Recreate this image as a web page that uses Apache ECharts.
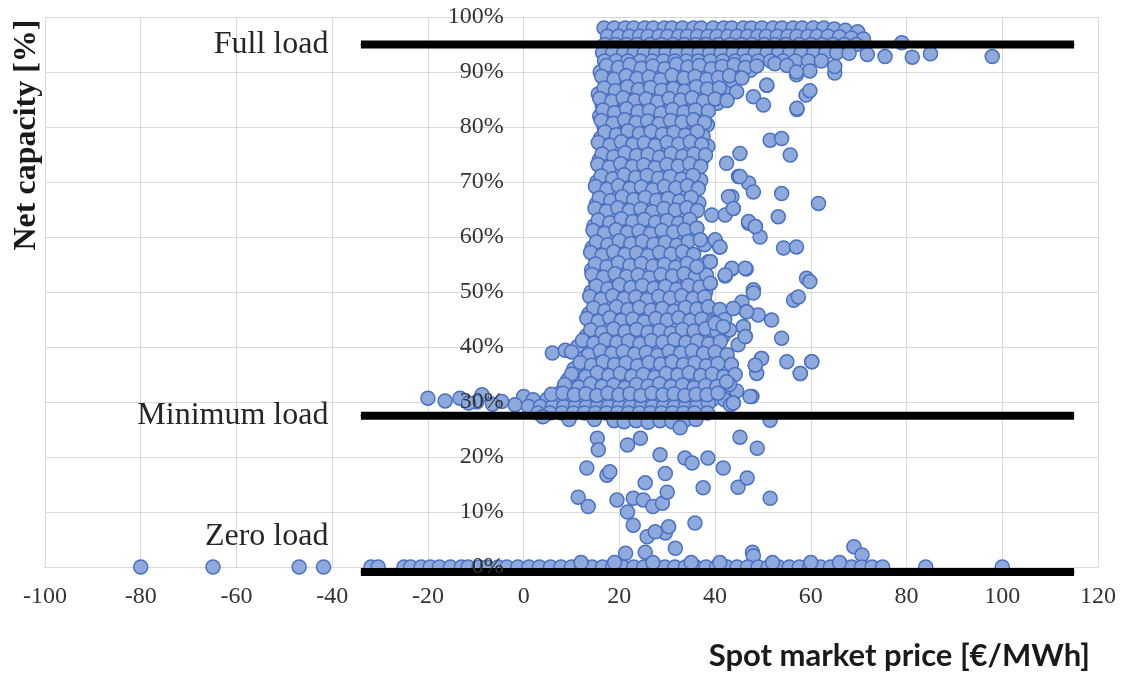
<!DOCTYPE html>
<html>
<head>
<meta charset="utf-8">
<script src="https://cdn.jsdelivr.net/npm/echarts@6/dist/echarts.min.js"></script>
<style>
  html, body { margin: 0; padding: 0; background: #ffffff; }
  #chart { width: 1124px; height: 675px; }
</style>
</head>
<body>
<div id="chart"></div>
<script>
// Axis ranges (spot price in €/MWh, net capacity in %)
const priceMin = -100, priceMax = 120, priceStep = 20;
const capMin = 0, capMax = 100, capStep = 10;

// Reference load levels drawn as horizontal bars
const loadNames = ['Full load', 'Minimum load', 'Zero load'];
const loadValues = [95, 27.5, -0.9];
const loadFrom = -34, loadTo = 115;

// Hourly operating points: [spot price, net capacity %]
const fullLoadBand = [
  [16.8,98],[18.9,98],[21.2,98],[23.0,98],[25.3,98],[27.1,98],[29.4,98],[31.0,98],[33.2,98],[35.5,98],[37.1,98],[39.6,98],[41.8,98],[43.5,98],[45.9,98],[47.6,98],[49.8,98],[52.1,98],[54.0,98],[56.3,98],[58.2,98],[60.5,98],[62.7,98],[64.9,97.8],[67.2,97.6],[69.8,97.3],
  [17.5,96.5],[19.8,96.5],[22.1,96.5],[24.2,96.5],[26.0,96.5],[28.3,96.5],[30.1,96.5],[32.4,96.5],[34.2,96.5],[36.3,96.5],[38.5,96.5],[40.4,96.5],[42.7,96.5],[44.6,96.5],[46.8,96.5],[48.9,96.5],[50.7,96.5],[53.0,96.5],[55.2,96.5],[57.1,96.5],[59.4,96.5],[61.3,96.5],[63.6,96.5],[66.0,96.4],[68.5,96.2],[71.0,96.0],
  [17.0,95],[19.2,95],[21.5,95],[23.7,95],[26.4,95],[28.8,95],[31.2,95],[33.6,95],[35.9,95],[38.1,95],[40.7,95],[43.2,95],[45.5,95],[47.7,95],[50.3,95],[52.5,95],[54.8,95],[57.6,95],[60.0,95],[62.3,95],[64.6,95],[67.0,95],[69.5,95],[79.0,95.3],
  [16.5,93.5],[18.6,93.5],[20.9,93.5],[23.1,93.5],[25.2,93.5],[27.6,93.5],[29.7,93.5],[32.0,93.5],[34.4,93.5],[36.7,93.5],[38.9,93.5],[41.3,93.5],[43.8,93.5],[46.1,93.5],[48.4,93.5],[50.9,93.5],[53.3,93.5],[55.6,93.5],[58.0,93.5],[60.6,93.5],[63.1,93.5],[65.4,93.5],[68.0,93.4],[71.8,93.2],[75.5,92.8],[85.0,93.3],[97.9,92.8],
  [16.9,92],[19.3,92],[21.8,92],[24.4,92],[26.9,92],[29.2,92],[31.6,92],[34.0,92],[36.5,92],[39.0,92],[41.6,92],[44.2,92],[46.5,92],[49.0,92],[51.6,92],[54.2,92],[56.8,92],[59.5,92],[62.2,92],[81.2,92.7]
];

const coreCloud = [
  [16.0,90],[18.6,90],[21.0,90],[23.3,90],[25.8,90],[28.1,90],[30.6,90],[33.0,90],[35.3,90],[37.9,90],[40.2,90],[42.6,90],[45.1,90],[47.4,90.3],[57.0,89.5],[59.8,90.2],[65.0,89.8],
  [17.2,88],[19.7,88],[22.1,88],[24.5,88],[26.9,88],[29.4,88],[31.7,88],[34.2,88],[36.5,88],[39.0,88],[41.4,88],[43.8,88],[50.8,87.6],
  [15.6,86],[18.0,86],[20.4,86],[22.9,86],[25.2,86],[27.6,86],[30.1,86],[32.4,86],[34.9,86],[37.3,86],[39.6,86],[42.2,86.2],[48.0,85.5],[59.0,85.8],
  [16.4,84],[18.9,84],[21.3,84],[23.6,84],[26.1,84],[28.5,84],[30.8,84],[33.3,84],[35.7,84],[38.0,84],[40.5,84.3],[50.1,84],[57.1,83.2],
  [15.9,82],[18.2,82],[20.6,82],[23.1,82],[25.5,82],[27.8,82],[30.3,82],[32.6,82],[35.0,82],[37.4,82.2],
  [16.8,80],[19.3,80],[21.7,80],[24.0,80],[26.5,80],[28.9,80],[31.2,80],[33.7,80],[36.1,80],[38.4,80.4],
  [16.1,78],[18.5,78],[21.0,78],[23.4,78],[25.8,78],[28.2,78],[30.5,78],[33.0,78],[35.4,78],[37.5,78.3],[51.5,77.6],[53.9,77.9],
  [16.9,76],[19.4,76],[21.8,76],[24.3,76],[26.6,76],[29.0,76],[31.5,76],[33.9,76],[36.2,76],[38.5,76.5],
  [15.8,74],[18.1,74],[20.6,74],[23.0,74],[25.4,74],[27.7,74],[30.2,74],[32.6,74],[35.0,74],[37.3,74.2],[42.4,73.4],[45.2,75.2],[55.7,74.9],
  [16.5,72],[19.0,72],[21.3,72],[23.8,72],[26.2,72],[28.6,72],[31.0,72],[33.4,72],[35.8,72],[44.9,71],
  [15.3,70],[17.7,70],[20.1,70],[22.5,70],[25.0,70],[27.3,70],[29.8,70],[32.2,70],[34.6,70],[37.0,70.3],[47.0,69.8],
  [16.0,68],[18.4,68],[20.9,68],[23.2,68],[25.7,68],[28.0,68],[30.5,68],[32.9,68],[35.3,68],[48.0,68.2],[53.9,67.9],[43.5,67.3],
  [15.2,66],[17.6,66],[20.0,66],[22.4,66],[24.8,66],[27.2,66],[29.6,66],[32.0,66],[34.4,66],[36.6,66.2],[43.8,65.2],[61.6,66.1],
  [15.9,64],[18.3,64],[20.7,64],[23.1,64],[25.5,64],[27.9,64],[30.3,64],[32.7,64],[35.0,64],[39.3,64],[42.1,64],[53.2,63.7],
  [14.7,62],[17.1,62],[19.5,62],[21.9,62],[24.3,62],[26.7,62],[29.1,62],[31.5,62],[33.8,62],[36.2,61.6],[47.0,62.5],[48.4,61.9],
  [15.4,60],[17.8,60],[20.2,60],[22.6,60],[25.0,60],[27.4,60],[29.8,60],[32.2,60],[34.5,60],[36.9,59.5],[40.0,59.3],[49.4,60],
  [14.3,58],[16.7,58],[19.1,58],[21.5,58],[23.9,58],[26.3,58],[28.7,58],[31.1,58],[33.5,58],[41.0,58.2],[54.3,58],[57.0,58.2],
  [15.1,56],[17.5,56],[19.9,56],[22.3,56],[24.7,56],[27.1,56],[29.5,56],[31.9,56],[34.2,56],[36.2,54.6],[39.0,55.5],[38.6,55.5],
  [14.2,54],[16.6,54],[19.0,54],[21.4,54],[23.8,54],[26.2,54],[28.6,54],[31.0,54],[33.4,54],[35.8,54],[43.5,54.2],[46.5,54.2],
  [15.0,52],[17.4,52],[19.8,52],[22.2,52],[24.6,52],[27.0,52],[29.4,52],[31.8,52],[34.2,52],[36.5,52],[42.1,52.9],[59.1,52.5],[59.8,51.9],[39.0,51.6],
  [14.1,50],[16.5,50],[18.9,50],[21.3,50],[23.7,50],[26.1,50],[28.5,50],[30.9,50],[33.3,50],[35.7,50],[38.0,50],[48.0,50.1],
  [14.8,48],[17.2,48],[19.6,48],[22.0,48],[24.4,48],[26.8,48],[29.2,48],[31.6,48],[34.0,48],[36.4,48],[45.6,48.2],[56.4,48.5],[57.4,49.1],
  [13.6,46],[16.0,46],[18.4,46],[20.8,46],[23.2,46],[25.6,46],[28.0,46],[30.4,46],[32.8,46],[35.2,46],[37.6,46],[39.8,46],[43.8,47],[46.6,46.4],[49.0,45.8],
  [14.4,44],[16.8,44],[19.2,44],[21.6,44],[24.0,44],[26.4,44],[28.8,44],[31.2,44],[33.6,44],[36.0,44],[38.4,44],[40.6,44],[51.8,44.9],[45.9,43.7],[41.7,43.7],
  [13.1,42],[15.5,42],[17.9,42],[20.3,42],[22.7,42],[25.1,42],[27.5,42],[29.9,42],[32.3,42],[34.7,42],[37.1,42],[39.5,42],[41.7,42],[46.3,41.9],[53.9,41.6],
  [11.2,40],[13.9,40],[16.3,40],[18.7,40],[21.1,40],[23.5,40],[25.9,40],[28.3,40],[30.7,40],[33.1,40],[35.5,40],[37.9,40],[40.3,40],[44.8,40.4],
  [6.0,38.9],[8.7,39.4],[12.6,38],[15.0,38],[17.4,38],[19.8,38],[22.2,38],[24.6,38],[27.0,38],[29.4,38],[31.8,38],[34.2,38],[36.6,38],[39.0,38],[41.4,38],[49.7,37.9],[55.0,37.3],[60.2,37.3],
  [10.5,36],[13.5,36],[15.9,36],[18.3,36],[20.7,36],[23.1,36],[25.5,36],[27.9,36],[30.3,36],[32.7,36],[35.1,36],[37.5,36],[39.9,36],[42.3,36],[48.4,36.7],[48.7,35.2],[57.8,35.2],
  [9.2,34],[12.2,34],[14.6,34],[17.0,34],[19.4,34],[21.8,34],[24.2,34],[26.6,34],[29.0,34],[31.4,34],[33.8,34],[36.2,34],[38.6,34],[41.0,34],[42.4,33.7],
  [8.0,32],[10.8,32],[13.3,32],[15.7,32],[18.1,32],[20.5,32],[22.9,32],[25.3,32],[27.7,32],[30.1,32],[32.5,32],[34.9,32],[37.3,32],[39.7,32],[42.0,32],[44.5,32],[47.7,31]
];

// Hours lying between the rows above, filling out the dense mass
const coreCloudFill = [
  [17.3,91.2],[19.8,90.8],[22.2,91.3],[24.6,90.7],[27.0,91.1],[29.5,90.6],[31.9,91.4],[34.3,90.9],[36.7,91.2],[39.2,90.6],[41.5,91.0],[44.0,91.3],[46.3,90.8],[48.7,91.1],[52.5,91.5],[55.0,91.2],
  [16.3,89.2],[18.9,88.7],[21.4,89.3],[23.7,88.8],[26.2,89.1],[28.6,88.6],[31.0,89.4],[33.5,88.9],[35.8,89.2],[38.3,88.7],[40.7,89.0],[43.0,89.3],[45.6,88.9],
  [16.8,87.1],[19.2,86.6],[21.7,87.3],[24.0,86.8],[26.5,87.2],[28.8,86.7],[31.3,87.0],[33.6,86.5],[36.1,87.3],[38.4,86.9],[40.9,87.1],[44.5,86.4],
  [15.9,85.2],[18.4,84.7],[20.8,85.3],[23.2,84.8],[25.6,85.1],[28.0,84.6],[30.4,85.2],[32.8,84.9],[35.2,85.3],[37.6,84.7],[40.0,85.1],[42.5,84.8],
  [16.6,83.1],[19.0,82.6],[21.5,83.3],[23.9,82.8],[26.3,83.0],[28.7,82.5],[31.1,83.2],[33.5,82.7],[35.9,83.1],[38.6,82.9],
  [16.2,81.2],[18.7,80.7],[21.1,81.3],[23.5,80.8],[25.9,81.1],[28.3,80.6],[30.7,81.2],[33.1,80.9],[35.5,81.3],[37.8,80.8],
  [17.0,79.1],[19.4,78.6],[21.8,79.3],[24.2,78.8],[26.6,79.2],[29.0,78.7],[31.4,79.0],[33.8,78.5],[36.3,79.2],
  [15.6,77.2],[18.0,76.7],[20.4,77.3],[22.8,76.8],[25.2,77.1],[27.5,76.6],[30.0,77.2],[32.4,76.9],[34.8,77.3],[37.2,76.8],
  [16.4,75.1],[18.8,74.6],[21.2,75.3],[23.6,74.8],[26.0,75.0],[28.4,74.5],[30.8,75.2],[33.2,74.7],[35.6,75.1],[38.0,74.9],
  [15.5,73.2],[17.9,72.7],[20.3,73.3],[22.7,72.8],[25.1,73.1],[27.5,72.6],[29.9,73.2],[32.3,72.9],[34.7,73.3],[37.0,72.8],
  [16.2,71.1],[18.6,70.6],[21.0,71.3],[23.4,70.8],[25.8,71.2],[28.2,70.7],[30.6,71.0],[33.0,70.5],[35.4,71.2],
  [15.0,69.2],[17.4,68.7],[19.8,69.3],[22.2,68.8],[24.6,69.1],[27.0,68.6],[29.4,69.2],[31.8,68.9],[34.2,69.3],[36.5,68.8],
  [15.8,67.1],[18.2,66.6],[20.6,67.3],[23.0,66.8],[25.4,67.2],[27.8,66.7],[30.2,67.0],[32.6,66.5],[35.0,67.2],
  [14.9,65.2],[17.3,64.7],[19.7,65.3],[22.1,64.8],[24.5,65.1],[26.9,64.6],[29.3,65.2],[31.7,64.9],[34.1,65.3],[36.3,64.8],
  [15.6,63.1],[18.0,62.6],[20.4,63.3],[22.8,62.8],[25.2,63.2],[27.6,62.7],[30.0,63.0],[32.4,62.5],[34.7,63.2],
  [14.5,61.2],[16.9,60.7],[19.3,61.3],[21.7,60.8],[24.1,61.1],[26.5,60.6],[28.9,61.2],[31.3,60.9],[33.6,61.3],
  [15.2,59.1],[17.6,58.6],[20.0,59.3],[22.4,58.8],[24.8,59.2],[27.2,58.7],[29.6,59.0],[32.0,58.5],[34.4,59.2],[37.8,58.6],
  [14.0,57.2],[16.4,56.7],[18.8,57.3],[21.2,56.8],[23.6,57.1],[26.0,56.6],[28.4,57.2],[30.8,56.9],[33.2,57.3],[35.5,56.8],
  [15.0,55.1],[17.4,54.6],[19.8,55.3],[22.2,54.8],[24.6,55.2],[27.0,54.7],[29.4,55.0],[31.8,54.5],[34.2,55.2],[37.0,54.8],
  [14.3,53.2],[16.7,52.7],[19.1,53.3],[21.5,52.8],[23.9,53.1],[26.3,52.6],[28.7,53.2],[31.1,52.9],[33.5,53.3],[35.9,52.8],[38.2,53.1],
  [15.2,51.1],[17.6,50.6],[20.0,51.3],[22.4,50.8],[24.8,51.2],[27.2,50.7],[29.6,51.0],[32.0,50.5],[34.4,51.2],[36.8,50.9],
  [13.8,49.2],[16.2,48.7],[18.6,49.3],[21.0,48.8],[23.4,49.1],[25.8,48.6],[28.2,49.2],[30.6,48.9],[33.0,49.3],[35.4,48.8],[37.8,49.1],
  [14.6,47.1],[17.0,46.6],[19.4,47.3],[21.8,46.8],[24.2,47.2],[26.6,46.7],[29.0,47.0],[31.4,46.5],[33.8,47.2],[36.2,46.9],[38.6,47.3],[41.0,46.8],
  [13.2,45.2],[15.6,44.7],[18.0,45.3],[20.4,44.8],[22.8,45.1],[25.2,44.6],[27.6,45.2],[30.0,44.9],[32.4,45.3],[34.8,44.8],[37.2,45.1],[39.6,44.6],[42.0,45.0],
  [14.0,43.1],[16.4,42.6],[18.8,43.3],[21.2,42.8],[23.6,43.2],[26.0,42.7],[28.4,43.0],[30.8,42.5],[33.2,43.2],[35.6,42.9],[38.0,43.3],[40.4,42.8],[43.0,43.1],
  [12.3,41.2],[14.7,40.7],[17.1,41.3],[19.5,40.8],[21.9,41.1],[24.3,40.6],[26.7,41.2],[29.1,40.9],[31.5,41.3],[33.9,40.8],[36.3,41.1],[38.7,40.6],[41.1,41.0],
  [10.0,39.1],[13.6,38.6],[16.0,39.3],[18.4,38.8],[20.8,39.2],[23.2,38.7],[25.6,39.0],[28.0,38.5],[30.4,39.2],[32.8,38.9],[35.2,39.3],[37.6,38.8],[40.0,39.1],[42.5,38.6],
  [11.8,37.2],[14.2,36.7],[16.6,37.3],[19.0,36.8],[21.4,37.1],[23.8,36.6],[26.2,37.2],[28.6,36.9],[31.0,37.3],[33.4,36.8],[35.8,37.1],[38.2,36.6],[40.6,37.0],[43.4,36.8],
  [10.0,35.1],[13.0,34.6],[15.4,35.3],[17.8,34.8],[20.2,35.2],[22.6,34.7],[25.0,35.0],[27.4,34.5],[29.8,35.2],[32.2,34.9],[34.6,35.3],[37.0,34.8],[39.4,35.1],[41.8,34.6],[44.2,35.0],
  [8.6,33.2],[11.5,32.7],[14.0,33.3],[16.4,32.8],[18.8,33.1],[21.2,32.6],[23.6,33.2],[26.0,32.9],[28.4,33.3],[30.8,32.8],[33.2,33.1],[35.6,32.6],[38.0,33.0],[40.4,32.8],[43.0,33.2]
];

// Sparse hours to the right of the main mass
const outerPoints = [
  [59.8,86.6],[57.1,83.4],[50.8,87.6],[57.0,90],[65.0,91],[44.9,71],[45.2,71],[42.8,67.3],[43.8,65.2],[47.0,62.8],[48.4,61.9],[36.2,61.6],[36.9,59.5],[40.0,59.5],[41.0,58.2],[36.2,54.6],[39.0,55.5],[43.5,54.3],[46.3,54.3],[42.1,53.1],[48.0,50.4],[39.0,51.6],[48.0,49.8],[43.8,47],[46.6,46.4],[40.0,44.3],[41.7,43.7],[45.9,43.7],[46.3,41.9],[49.7,37.9],[48.4,36.7],[42.4,33.7],[43.8,29.8],[38.6,30.4],[60.2,37.3],[57.8,35.2]
];

const minLoadBand = [
  [-20.0,30.7],[-16.4,30.2],[-13.3,30.7],[-8.7,31.3],[0.0,31],[2.0,30.4],[4.9,30.5],[7.3,30.5],[9.6,30.5],[11.9,30.5],[14.2,30.5],[16.5,30.5],[18.8,30.5],[21.1,30.5],[23.4,30.5],[25.7,30.5],[28.0,30.5],[30.3,30.5],[32.6,30.5],[34.9,30.5],[37.2,30.5],[39.5,30.5],[42.0,30.4],[47.3,31],
  [-9.8,30],[-1.8,29.5],[1.0,29.2],[3.5,29.2],[6.0,29.2],[8.4,29.2],[10.8,29.2],[13.1,29.2],[15.4,29.2],[17.7,29.2],[20.0,29.2],[22.3,29.2],[24.6,29.2],[26.9,29.2],[29.2,29.2],[31.5,29.2],[33.8,29.2],[36.1,29.2],[38.6,29.8],[43.2,29.5],[43.8,29.8],
  [3.0,28],[5.5,28],[8.0,28],[10.4,28],[12.7,28],[15.0,28],[17.3,28],[19.6,28],[21.9,28],[24.2,28],[26.5,28],[28.8,28],[31.1,28],[33.4,28],[35.7,28],[38.4,28],
  [4.0,27.3],[9.5,26.8],[14.8,26.8],[18.9,26.6],[21.0,26.4],[23.5,26.6],[26.0,26.3],[28.5,26.6],[31.0,26.4],[33.7,26.7],[36.0,26.8],[51.5,26.7],
  [5.8,31.4],[8.2,31.6],[10.6,31.3],[13.0,31.5],[15.3,31.2],[17.6,31.6],[19.9,31.3],[22.2,31.5],[24.5,31.2],[26.8,31.6],[29.1,31.3],[31.4,31.5],[33.7,31.2],[36.0,31.4],[38.3,31.3],[40.6,31.6],[-4.6,30.1],[-6.5,29.6],[-11.5,29.8]
];

const partLoadLow = [
  [15.4,23.4],[15.6,21.3],[13.2,18],[17.4,16.7],[18.0,17.3],[11.4,12.7],[13.5,11],[19.5,12.2],[21.7,10],[22.9,7.6],[22.9,12.5],[25.0,12.2],[27.0,11],[29.0,11.6],[25.4,15.3],[29.6,17],[30.0,13.6],[28.5,20.4],[21.7,22.2],[24.4,23.4],[32.7,25.3],[33.7,19.8],[35.2,18.9],[38.5,19.8],[41.7,18],[44.8,14.5],[46.7,16.2],[37.5,14.4],[35.8,8],[29.6,6.2],[30.3,7.3],[25.8,5.5],[27.5,6.4],[21.3,2.5],[25.4,2.7],[31.7,3.4],[47.8,2.7],[48.8,21.6],[51.5,12.5],[45.2,23.6],[69.0,3.7],[70.7,2.2],[48.0,2]
];

const zeroLoadRow = [
  [-80,0],[-64.9,0],[-46.9,0],[-41.8,0],[-31.9,0],[-30.4,0],[-25.0,0],[-23.6,0],[-21.4,0],[-19.5,0],[-17.6,0],[-15.3,0],[-13.0,0],[-11.6,0],[-9.3,0],[-7.6,0],[-5.3,0],[-3.5,0],[-1.2,0],[1.1,0],[3.3,0],[5.6,0],[7.8,0],[10.0,0],[12.1,0],[14.3,0],[16.5,0],[18.6,0],[20.8,0],[23.0,0],[25.1,0],[27.3,0],[29.5,0],[31.6,0],[33.8,0],[36.0,0],[38.1,0],[40.3,0],[42.5,0],[44.6,0],[46.8,0],[49.0,0],[51.1,0],[53.3,0],[55.5,0],[57.6,0],[59.8,0],[62.0,0],[64.1,0],[66.3,0],[68.5,0],[70.6,0],[72.8,0],[75.0,0],[84.0,0],[100.0,0],
  [12.0,0.8],[19.0,0.8],[27.0,0.8],[35.0,0.8],[41.0,0.8],[52.0,0.8],[60.0,0.8],[66.0,0.8]
];

const operatingPoints = [].concat(fullLoadBand, coreCloud, coreCloudFill, outerPoints, minLoadBand, partLoadLow, zeroLoadRow);

const serif = '"Liberation Serif", "Times New Roman", serif';
const textDark = '#262626';
const gridColor = '#d9d9d9';

// Plot box in pixels
const gridLeft = 45, gridRight = 26, gridTop = 17, gridBottom = 108;
const plotWidth = 1124 - gridLeft - gridRight;
// shift the value axis so it crosses the price axis at 0 €/MWh
const yAxisShift = -plotWidth * (0 - priceMin) / (priceMax - priceMin);

const loadSeries = loadNames.map(function (name, i) {
  const lbl = {
    show: true,
    position: 'left',
    distance: 32,
    formatter: name,
    fontFamily: serif,
    fontSize: 32,
    color: textDark
  };
  if (i === 2) lbl.offset = [0, -35];
  return {
    name: name,
    type: 'line',
    silent: true,
    clip: false,
    symbol: 'circle',
    symbolSize: 1,
    itemStyle: { color: '#000000' },
    lineStyle: { color: '#000000', width: 8, cap: 'butt' },
    data: [
      { value: [loadFrom, loadValues[i]], label: lbl },
      { value: [loadTo, loadValues[i]] }
    ]
  };
});

const capAxisBase = {
  type: 'value',
  min: capMin,
  max: capMax,
  interval: capStep,
  position: 'left',
  offset: yAxisShift,
  axisTick: { show: false }
};

const chart = echarts.init(document.getElementById('chart'), null, { renderer: 'canvas' });
chart.setOption({
  animation: false,
  backgroundColor: '#ffffff',
  grid: { left: gridLeft, right: gridRight, top: gridTop, bottom: gridBottom, outerBoundsMode: 'none' },
  title: {
    text: 'Spot market price [€/MWh]',
    right: 34,
    top: 640,
    padding: 0,
    textStyle: { fontFamily: 'Lato, "Open Sans", sans-serif', fontWeight: 'bold', fontSize: 31, color: '#1a1a1a' }
  },
  graphic: [{
    type: 'text',
    x: 27,
    y: 135,
    rotation: Math.PI / 2,
    style: {
      text: 'Net capacity [%]',
      font: 'bold 32px ' + serif,
      fill: '#1a1a1a',
      textAlign: 'center',
      textVerticalAlign: 'middle'
    }
  }],
  xAxis: {
    type: 'value',
    min: priceMin,
    max: priceMax,
    interval: priceStep,
    axisLine: { show: true, onZero: false, lineStyle: { color: gridColor, width: 1 } },
    axisTick: { show: false },
    axisLabel: { fontFamily: serif, fontSize: 24, color: '#333333', margin: 18 },
    splitLine: { show: true, lineStyle: { color: gridColor, width: 1 } }
  },
  yAxis: [
    // gridlines, kept beneath the markers
    Object.assign({}, capAxisBase, {
      axisLine: { show: true, onZero: false, lineStyle: { color: gridColor, width: 1 } },
      axisLabel: { show: false },
      splitLine: { show: true, lineStyle: { color: gridColor, width: 1 } }
    }),
    // percentage labels, drawn over the markers
    Object.assign({}, capAxisBase, {
      z: 5,
      axisLine: { show: false, onZero: false },
      axisLabel: { fontFamily: serif, fontSize: 24, color: '#333333', margin: 20, formatter: '{value}%' },
      splitLine: { show: false }
    })
  ],
  series: [{
    name: 'Operating hours',
    type: 'scatter',
    symbol: 'circle',
    symbolSize: 14,
    itemStyle: { color: '#8eaadc', borderColor: '#4a70c2', borderWidth: 1.5, opacity: 1 },
    data: operatingPoints
  }].concat(loadSeries)
});
</script>
</body>
</html>
